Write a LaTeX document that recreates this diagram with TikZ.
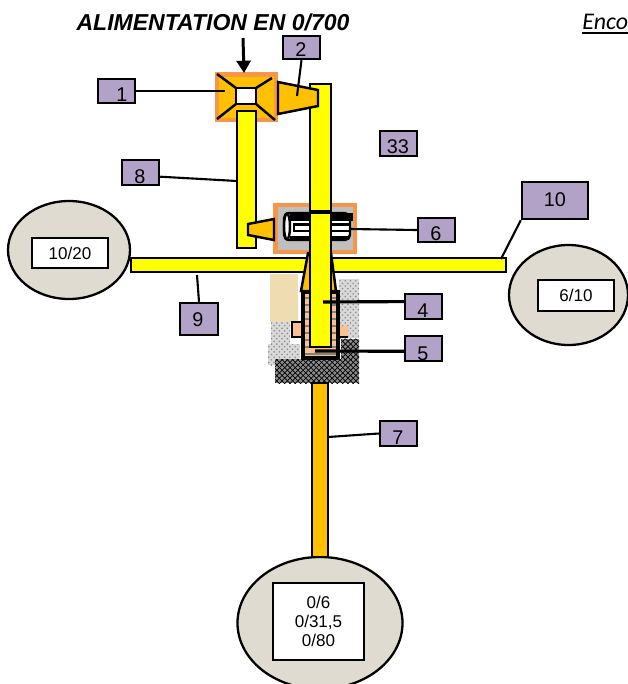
\documentclass[tikz,border=0pt]{standalone}
\usepackage{fontspec}
\setmainfont{Liberation Sans}
\newfontfamily\cfont{Carlito}
\usetikzlibrary{arrows.meta, patterns, shapes.geometric}
\definecolor{shaftyellow}{HTML}{FFFF00}
\definecolor{gold}{HTML}{FFC000}
\definecolor{rim}{HTML}{F79646}
\definecolor{mauve}{HTML}{B3A2C7}
\definecolor{stone}{HTML}{E0DBD1}
\definecolor{wood}{HTML}{EFDCB0}
\definecolor{peach}{HTML}{FAC090}
\tikzset{
  pxsize/.style 2 args={minimum width=#1*0.02cm, minimum height=#2*0.02cm, inner sep=0pt},
  numbox/.style={draw=black, fill=mauve, line width=1.4pt},
  numtext/.style={font=\fontsize{11.3}{12}\selectfont, inner sep=0pt},
  gaugebody/.style={draw=black, fill=stone, line width=1.3pt, ellipse},
  gaugebox/.style={draw=black, fill=white, line width=1.4pt, align=center, font=\fontsize{9.7}{10.9}\selectfont},
  part/.style={draw=black, line width=1.4pt},
  lead/.style={draw=black, line width=1.2pt},
}
\begin{document}
\begin{tikzpicture}[x=0.02cm, y=-0.02cm]
\useasboundingbox (0,0) rectangle (628,684);
% titles
\node (title) at (213,22) [font=\fontsize{13.1}{14}\selectfont\bfseries\itshape, inner sep=0pt] {ALIMENTATION EN 0/700};
\node (enco) at (582,22) [anchor=west, font=\cfont\fontsize{13.6}{14}\selectfont\itshape, inner sep=0pt] {Enco};
\draw [line width=0.7pt] (582,33) -- (628,33);
% housing
\fill [black!15] (339,279) rectangle (359,338);
\fill [black!15] (271,322) rectangle (290,344);
\fill [black!15] (268,344) rectangle (300,365);
\fill [pattern=crosshatch dots, pattern color=black!45] (339,279) rectangle (359,338);
\fill [pattern=crosshatch dots, pattern color=black!45] (271,322) rectangle (290,344);
\fill [pattern=crosshatch dots, pattern color=black!45] (268,344) rectangle (300,365);
\fill [wood] (270,274) rectangle (298,322);
\fill [black!45] (275,359) rectangle (359,383);
\fill [black!45] (341,339) rectangle (359,359);
\fill [pattern=crosshatch, pattern color=black] (275,359) rectangle (359,383);
\fill [pattern=crosshatch, pattern color=black] (341,339) rectangle (359,359);
\draw [part, fill=peach] (292,322) rectangle (302,337);
\fill [peach] (339,326) rectangle (348,336);
\draw [black, line width=1pt] (339,337) -- (348,337);
\fill [peach] (302,292) rectangle (339,359);
\foreach \y in {298,305,...,354} {
  \draw [black!50, line width=0.7pt] (302,\y) -- (339,\y);
}
\draw [black, line width=2pt] (303,292) rectangle (338,358);
% gauge bodies
\node (gaugeA) at (69,250) [gaugebody, pxsize={122}{98}] {};
\node (gaugeB) at (568.5,295) [gaugebody, pxsize={119}{100}] {};
\node (gaugeC) at (320,623) [gaugebody, pxsize={165}{132}] {};
\node (readA) at (70,253) [gaugebox, pxsize={76}{30}] {10/20};
\node (readB) at (576,295.5) [gaugebox, pxsize={76}{31}] {6/10};
\node (readC) at (318.5,621.5) [gaugebox, pxsize={91}{77}] {0/6\\0/31,5\\0/80};
% cross bar and lower shaft
\draw [part, fill=shaftyellow] (131,258) rectangle (506,272);
\draw [part, fill=gold] (312,383) rectangle (328,557);
% distributor
\draw [rim, fill=gold, line width=2.4pt] (217,74.5) rectangle (276,120);
\draw [part, fill=shaftyellow] (237,248) -- (237,111) -- (256,111) -- (256,248) -- cycle;
\draw [part, fill=white] (236,88) rectangle (256,104);
\draw [part] (217,74) -- (236,88);
\draw [part] (272,78) -- (256,88);
\draw [part] (217,119) -- (236,104);
\draw [part] (275,120) -- (256,104);
% turbine
\draw [rim, fill=black!25, line width=2.4pt] (275.5,205) rectangle (355,252);
\draw [part, fill=gold] (274,219) -- (248,224) -- (248,235) -- (274,240) -- cycle;
\draw [part, fill=white, rounded corners=3pt] (284,213) rectangle (350,240);
\fill [black] (290,213) rectangle (353,221);
\fill [black] (290,236) rectangle (349,240);
\draw [black, line width=1.3pt] (350,224.5) -- (294,224.5) -- (294,231) -- (350,231);
\draw [part, fill=white] (287,226.5) ellipse (3 and 13);
% cone below turbine
\draw [part, fill=gold] (308,253) -- (301,291) -- (336,291) -- (331,253) -- cycle;
% main shaft
\draw [part, fill=shaftyellow] (310,84) rectangle (331,347);
\draw [black, line width=1.8pt] (310,212) -- (331,212);
\draw [part, fill=gold] (278,82) -- (318,90) -- (318,106) -- (278,114) -- cycle;
% feed arrow
\coordinate (feedA) at (243,38);
\coordinate (feedB) at (244,73);
\draw [black, line width=1.7pt, -{Triangle[length=7pt, width=8pt]}] (feedA) -- (feedB);
% numbered boxes
\node (box1) at (116.5,91) [numbox, pxsize={37}{24}] {};
\node (box2) at (301.5,47.5) [numbox, pxsize={37}{23}] {};
\node (box33) at (398.5,143.5) [numbox, pxsize={37}{25}] {};
\node (box8) at (140.5,172.5) [numbox, pxsize={37}{25}] {};
\node (box10) at (555,200.5) [numbox, pxsize={66}{37}] {};
\node (box6) at (436.5,230) [numbox, pxsize={37}{24}] {};
\node (box9) at (199,319) [numbox, pxsize={38}{32}] {};
\node (box4) at (423.5,306.5) [numbox, pxsize={37}{25}] {};
\node (box5) at (423.5,348.5) [numbox, pxsize={37}{25}] {};
\node (box7) at (398.5,433.5) [numbox, pxsize={37}{25}] {};
\node (num1) at (122,95) [numtext] {1};
\node (num2) at (301,50) [numtext] {2};
\node (num33) at (398,147) [numtext] {33};
\node (num8) at (140,177) [numtext] {8};
\node (num10) at (555,200) [numtext] {10};
\node (num6) at (436,234) [numtext] {6};
\node (num9) at (198,320) [numtext] {9};
\node (num4) at (423,311) [numtext] {4};
\node (num5) at (423,354) [numtext] {5};
\node (num7) at (398,438) [numtext] {7};
% leaders
\coordinate (end1) at (225,91);
\coordinate (end2) at (297,96);
\coordinate (end8) at (237,181);
\coordinate (end6) at (350,229);
\coordinate (end9) at (197,275);
\coordinate (end10) at (501,259);
\coordinate (end4) at (323,302);
\coordinate (end5) at (315,351);
\coordinate (end7) at (328,437);
\draw [lead, line width=1.4pt] (box1.east) -- (end1);
\draw [lead] (box2.south) -- (end2);
\draw [lead] (box8.-12) -- (end8);
\draw [lead] (box6.west) -- (end6);
\draw [lead] (box9.north) -- (end9);
\draw [lead] (box10.south west) -- (end10);
\draw [lead, line width=1.8pt] (box4.166) -- (end4);
\draw [lead, line width=1.8pt] (box5.188) -- (end5);
\draw [lead] (box7.west) -- (end7);
\end{tikzpicture}
\end{document}
